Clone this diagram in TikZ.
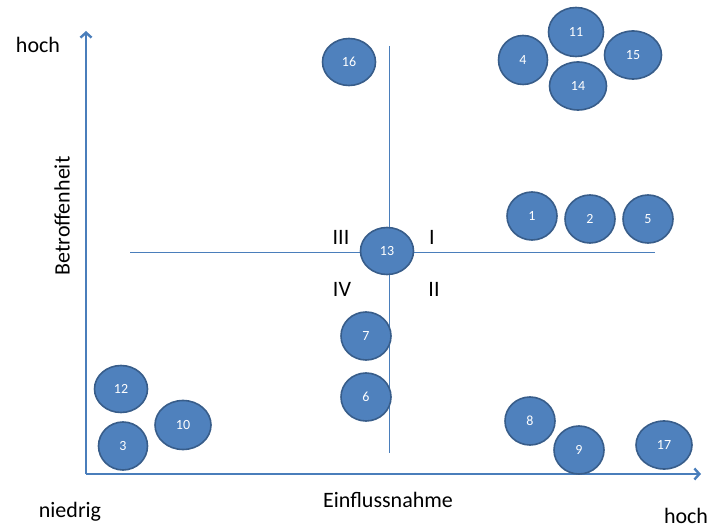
\documentclass[tikz,border=0pt]{standalone}
\usepackage{fontspec}
\setmainfont{Carlito}
\usepackage{tikz}
\usetikzlibrary{shapes.geometric,arrows.meta}
\definecolor{achse}{HTML}{4A7EBB}
\definecolor{kreisfill}{HTML}{4F81BD}
\definecolor{kreisrand}{HTML}{385D8A}
\tikzset{>={Straight Barb[length=5pt,width=11pt]}}
\tikzset{sh/.style={ellipse,draw=kreisrand,line width=1.6pt,fill=kreisfill,text=white,
    font=\fontsize{14}{16}\selectfont,inner sep=0pt,minimum width=53pt,minimum height=47pt}}
\tikzset{beschr/.style={font=\fontsize{22}{24}\selectfont,text=black,inner sep=0pt}}

\begin{document}
\begin{tikzpicture}[x=1pt,y=-1pt]
      \useasboundingbox (0,0) rectangle (711,526);
      % Achsen
      \coordinate (ursprung) at (86,474);
      \coordinate (yspitze) at (86,31);
      \coordinate (xspitze) at (701,474);
      \draw[->,achse,line width=2.4pt] (ursprung) -- (yspitze);
      \draw[->,achse,line width=2.4pt] (ursprung) -- (xspitze);
      % Quadranten
      \coordinate (vo) at (389,46);
      \coordinate (vu) at (389,453);
      \coordinate (hl) at (130,253);
      \coordinate (hr) at (655,253);
      \draw[achse,line width=1pt] (vo) -- (vu);
      \draw[achse,line width=1pt] (hl) -- (hr);
      \node[beschr] (q3) at (341,237) {III};
      \node[beschr] (q1) at (432,237) {I};
      \node[beschr] (q4) at (342,289) {IV};
      \node[beschr] (q2) at (434,289) {II};
      % Beschriftung
      \node[beschr] (hochy) at (38,45) {hoch};
      \node[beschr,rotate=90] (betr) at (62,216) {Betroffenheit};
      \node[beschr] (niedrig) at (70,512) {niedrig};
      \node[beschr] (einfl) at (388,500) {Einflussnahme};
      \node[beschr] (hochx) at (686,516) {hoch};
      % Stakeholder
      \node[sh] (s16) at (349,62) {16};
      \node[sh,minimum width=55pt,minimum height=49pt] (s11) at (576,32) {11};
      \node[sh,minimum width=49pt,minimum height=49pt] (s4) at (523,60) {4};
      \node[sh,minimum width=57pt,minimum height=48pt] (s15) at (633,55) {15};
      \node[sh,minimum width=57pt,minimum height=48pt] (s14) at (578,86) {14};
      \node[sh,minimum width=50pt,minimum height=48pt] (s1) at (532,216) {1};
      \node[sh,minimum width=50pt,minimum height=48pt] (s2) at (590,219) {2};
      \node[sh,minimum width=50pt,minimum height=48pt] (s5) at (648,219) {5};
      \node[sh] (s13) at (387,251) {13};
      \node[sh,minimum width=50pt,minimum height=48pt] (s7) at (366,336) {7};
      \node[sh,minimum width=50pt,minimum height=48pt] (s6) at (366,397) {6};
      \node[sh] (s12) at (121,389) {12};
      \node[sh,minimum width=49pt,minimum height=48pt] (s3) at (123,446) {3};
      \node[sh,minimum width=56pt,minimum height=49pt] (s10) at (183,425) {10};
      \node[sh,minimum width=50pt,minimum height=48pt] (s8) at (530,421) {8};
      \node[sh,minimum width=50pt,minimum height=48pt] (s9) at (579,450) {9};
      \node[sh,minimum width=56pt,minimum height=48pt] (s17) at (664,445) {17};
\end{tikzpicture}
\end{document}
